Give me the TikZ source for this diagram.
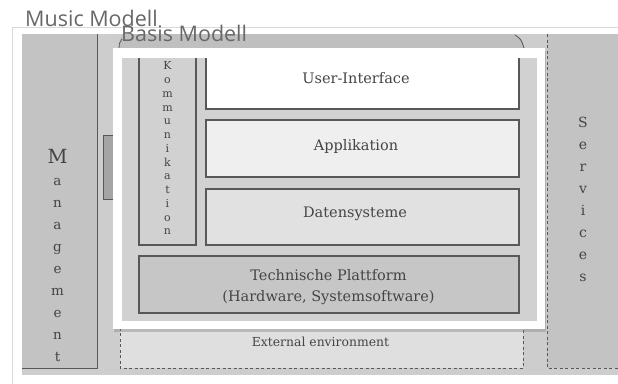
\documentclass[tikz,border=0pt]{standalone}
\usepackage{fontspec}
\usepackage{tikz}
\usetikzlibrary{shadows}

\newfontfamily\titlefont{Open Sans}
\newfontfamily\boxfont{DejaVu Serif}

\definecolor{framegray}{HTML}{D9D9D9}
\definecolor{bggray}{HTML}{CDCDCD}
\definecolor{colgray}{HTML}{C3C3C3}
\definecolor{bandgray}{HTML}{BFBFBF}
\definecolor{innergray}{HTML}{D1D1D1}
\definecolor{envgray}{HTML}{DFDFDF}
\definecolor{applgray}{HTML}{EFEFEF}
\definecolor{datengray}{HTML}{E1E1E1}
\definecolor{techgray}{HTML}{C6C6C6}
\definecolor{handlegray}{HTML}{A5A5A5}
\definecolor{linegray}{HTML}{585858}
\definecolor{textgray}{HTML}{444444}
\definecolor{titlegray}{HTML}{686868}

\tikzset{
  layerbox/.style={rectangle,draw=linegray,line width=1.2pt,inner sep=0pt},
  layertext/.style={text=textgray,font=\boxfont\fontsize{14.5}{21}\selectfont,inner sep=0pt},
  envline/.style={draw=linegray,line width=1pt,dash pattern=on 3pt off 2.5pt},
  letters/.style={align=center,text=textgray,inner sep=0pt},
  title/.style={text=titlegray,font=\titlefont\fontsize{21.5}{24}\selectfont,inner sep=0pt,anchor=base west}
}

\begin{document}
\begin{tikzpicture}[x=1pt,y=-1pt]
\useasboundingbox (0,0) rectangle (618,383);
\fill[white] (0,0) rectangle (618,383);

% outer frame and image area
\draw[framegray,fill=white,line width=0.8pt] (12,27) rectangle (640,400);
\fill[bggray] (22,34) rectangle (618,375);

% Management and Services columns
\fill[colgray] (22,34) rectangle (97,368);
\draw[linegray,line width=1pt] (97,34) -- (97,368) -- (22,368);
\fill[colgray] (547,34) rectangle (618,368);
\draw[envline] (547,34) -- (547,368) -- (618,368);
\node[letters,font=\boxfont\fontsize{13.5}{22}\selectfont] (mgmt) at (57.5,255)
  {{\fontsize{19.5}{22}\selectfont M}\\a\\n\\a\\g\\e\\m\\e\\n\\t};
\node[letters,font=\boxfont\fontsize{14}{22}\selectfont] (serv) at (583,199.5)
  {S\\e\\r\\v\\i\\c\\e\\s};

% external environment
\path[envline,fill=envgray] (120,300) rectangle (523,368);
\node[layertext,font=\boxfont\fontsize{12.4}{16}\selectfont,anchor=base] (extenv) at (320.5,346) {External environment};

% band behind Basis Modell
\fill[bandgray] (119,48) .. controls (119,41) .. (123,34) -- (514,34) .. controls (521,39) .. (524,48) -- cycle;
\draw[linegray,line width=0.8pt] (119,48) .. controls (119,44) .. (122,39);
\draw[linegray,line width=0.8pt] (515,35) .. controls (521,39) .. (524,48);
\node[layerbox,line width=1pt,fill=handlegray,minimum width=10pt,minimum height=64pt] (handle) at (108,167) {};

% Basis Modell
\path[fill=white,drop shadow={shadow xshift=1pt,shadow yshift=-2.5pt,opacity=0.4}] (113,48) rectangle (545,329);
\fill[innergray] (122,58) rectangle (537,321);
\begin{scope}
\clip (122,58) rectangle (537,321);
\node[layerbox,fill=innergray,minimum width=57pt,minimum height=193pt] (komm) at (167.5,148.5) {};
\node[layerbox,fill=white,minimum width=313pt,minimum height=64pt] (ui) at (362.5,77) {};
\node[layerbox,fill=applgray,minimum width=313pt,minimum height=57pt] (appl) at (362.5,148.5) {};
\node[layerbox,fill=datengray,minimum width=313pt,minimum height=56pt] (daten) at (362.5,217) {};
\node[layerbox,fill=techgray,minimum width=380pt,minimum height=57pt] (tech) at (329,284.5) {};
\end{scope}
\node[letters,font=\boxfont\fontsize{11}{13.75}\selectfont] (kommtext) at (167.5,148.4)
  {K\\o\\m\\m\\u\\n\\i\\k\\a\\t\\i\\o\\n};
\node[layertext,anchor=base] (uitext) at (356,83) {User-Interface};
\node[layertext,anchor=base] (appltext) at (356,150) {Applikation};
\node[layertext,anchor=base] (datentext) at (355,217) {Datensysteme};
\node[layertext,align=center] (techtext) at (328.5,287.5) {Technische Plattform\\(Hardware, Systemsoftware)};

% titles
\node[title] (music) at (25,26) {Music Modell};
\node[title] (basis) at (121,41.7) {Basis Modell};
\end{tikzpicture}
\end{document}
